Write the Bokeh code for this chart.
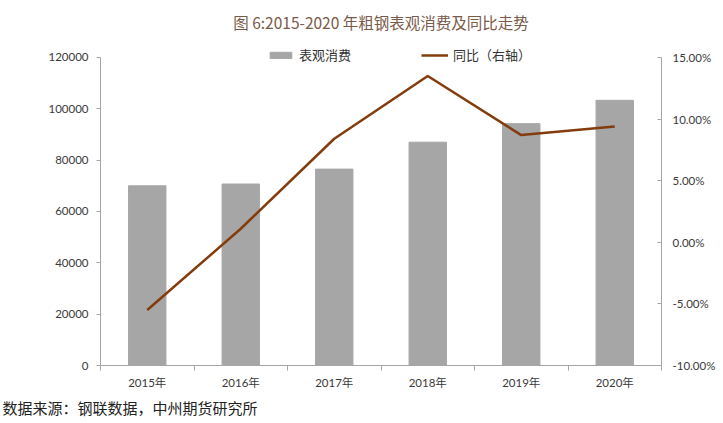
from bokeh.plotting import figure
from bokeh.models import (Range1d, LinearAxis, FixedTicker, NumeralTickFormatter,
                          PrintfTickFormatter, Legend, LegendItem, Title, ColumnDataSource)
from bokeh.embed import file_html
from bokeh.resources import INLINE

years = ["2015年", "2016年", "2017年", "2018年", "2019年", "2020年"]
consumption = [70000, 70700, 76500, 87000, 94200, 103300]
yoy_pct = [-5.5, 1.1, 8.4, 13.5, 8.7, 9.4]
left_ticks = [0, 20000, 40000, 60000, 80000, 100000, 120000]
right_ticks = [-10, -5, 0, 5, 10, 15]

title_text = "图 6:2015-2020 年粗钢表观消费及同比走势"
source_text = "数据来源：钢联数据，中州期货研究所"

xpos = [i + 0.5 for i in range(len(years))]
src = ColumnDataSource(dict(x=xpos, cons=consumption, pct=yoy_pct))

W, H = 723, 423
frame_top, frame_bottom = 40, 365
axis_px = 309  # pixel height of the axes' tick span
frac = (frame_bottom - frame_top) / axis_px
l_lo, l_hi = left_ticks[0], left_ticks[-1]
r_lo, r_hi = right_ticks[0], right_ticks[-1]

p = figure(width=W, height=H, output_backend="svg", toolbar_location=None,
           x_range=Range1d(0, len(years)),
           y_range=Range1d(l_lo, l_lo + (l_hi - l_lo) * frac),
           min_border_left=100, min_border_right=62,
           min_border_top=frame_top, min_border_bottom=H - frame_bottom)
p.extra_y_ranges = {"pct": Range1d(r_lo, r_lo + (r_hi - r_lo) * frac)}
p.outline_line_color = None
p.xgrid.visible = False
p.ygrid.visible = False
p.background_fill_color = "white"
p.border_fill_color = "white"

p.title = Title(text=title_text, align="center", text_font="'Noto Sans CJK SC'",
                text_font_size="15.5px", text_font_style="normal",
                text_color="#7A5A48", standoff=17, offset=1)

axis_col = "#A6A6A6"
lab_col = "#3A3A3A"
font = "Lato, 'Noto Sans CJK SC'"

bars = p.vbar(x="x", top="cons", width=0.4, source=src, color="#A6A6A6")
line = p.line(x="x", y="pct", source=src, y_range_name="pct", line_color="#843C0C", line_width=2.5)

# bottom axis
xa = p.xaxis[0]
xa.ticker = FixedTicker(ticks=xpos, minor_ticks=list(range(len(years) + 1)))
xa.major_label_overrides = {x: y for x, y in zip(xpos, years)}
xa.major_tick_line_color = None
xa.major_tick_out = 0
xa.major_tick_in = 0
xa.minor_tick_out = 5
xa.minor_tick_in = 0
xa.minor_tick_line_color = axis_col
xa.axis_line_color = axis_col
xa.major_label_text_font = font
xa.major_label_text_font_size = "11.5px"
xa.major_label_text_color = lab_col
xa.major_label_standoff = 5

# left axis
ya = p.yaxis[0]
ya.ticker = FixedTicker(ticks=left_ticks)
ya.bounds = (l_lo, l_hi)
ya.formatter = NumeralTickFormatter(format="0")
ya.minor_tick_line_color = None
ya.major_tick_out = 4
ya.major_tick_in = 0
ya.major_tick_line_color = axis_col
ya.axis_line_color = axis_col
ya.major_label_text_font = font
ya.major_label_text_font_size = "11.5px"
ya.major_label_text_color = lab_col
ya.major_label_standoff = 8

# right axis
ra = LinearAxis(y_range_name="pct", ticker=FixedTicker(ticks=right_ticks),
                formatter=PrintfTickFormatter(format="%.2f%%"), bounds=(r_lo, r_hi))
ra.minor_tick_line_color = None
ra.major_tick_out = 0
ra.major_tick_in = 4
ra.major_tick_line_color = axis_col
ra.axis_line_color = axis_col
ra.major_label_text_font = font
ra.major_label_text_font_size = "11.5px"
ra.major_label_text_color = lab_col
ra.major_label_standoff = 11
p.add_layout(ra, "right")

legend = Legend(items=[LegendItem(label="表观消费", renderers=[bars]),
                       LegendItem(label="同比（右轴）", renderers=[line])],
                orientation="horizontal", location=(167, 301),
                padding=0, margin=0, spacing=70, glyph_width=27, glyph_height=8,
                label_standoff=5, label_height=14,
                label_text_font="'Noto Sans CJK SC'", label_text_font_size="13px",
                label_text_color="#333333",
                background_fill_alpha=0, border_line_color=None)
p.add_layout(legend, "center")

p.add_layout(Title(text=source_text, align="left", offset=-98, standoff=7,
                   text_font="'Noto Sans CJK SC'", text_font_size="15px",
                   text_font_style="normal", text_color="#222222"), "below")

open("out.html", "w").write(file_html(p, INLINE))
